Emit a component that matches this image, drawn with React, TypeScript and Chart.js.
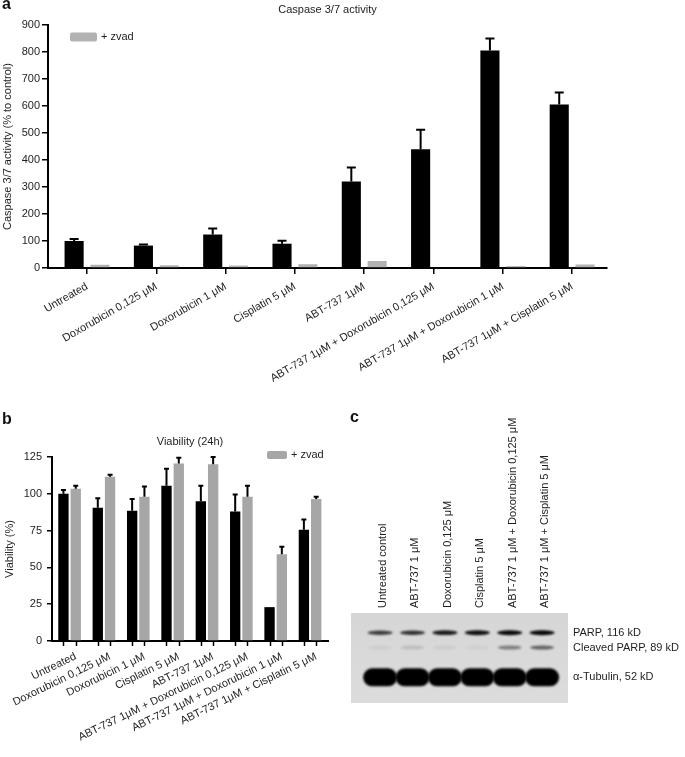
import React, { useEffect, useRef } from "react";
import { Chart, registerables } from "chart.js";

Chart.register(...registerables);

const FONT = "'Liberation Sans', Arial, Helvetica, sans-serif";
const TEXT = "#1e1e1e";

// ---------- Panel a: Caspase 3/7 activity ----------
const treatments = [
  "Untreated",
  "Doxorubicin 0,125 μM",
  "Doxorubicin 1 μM",
  "Cisplatin 5 μM",
  "ABT-737 1μM",
  "ABT-737 1μM + Doxorubicin 0,125 μM",
  "ABT-737 1μM + Doxorubicin 1 μM",
  "ABT-737 1μM + Cisplatin 5 μM",
];
const caspaseControl = [100, 83, 124, 90, 320, 440, 806, 606];
const caspaseControlErr = [7, 4, 22, 11, 52, 72, 44, 44];
const caspaseZvad = [12, 10, 9, 14, 26, 0, 7, 13];

// ---------- Panel b: Viability (24h) ----------
const viabilityControl = [100, 90.5, 88.5, 105.5, 95, 88, 23, 75.5];
const viabilityControlErr = [2.5, 6.5, 8, 11.5, 10.5, 11.5, 0, 7];
const viabilityZvad = [103.5, 111.5, 98, 120.5, 120, 98, 59, 96.5];
const viabilityZvadErr = [2, 1.5, 7, 4, 5, 7.5, 5, 1.5];

// ---------- Panel c: western blot ----------
const laneLabels = [
  "Untreated control",
  "ABT-737 1 μM",
  "Doxorubicin 0,125 μM",
  "Cisplatin 5 μM",
  "ABT-737 1 μM + Doxorubicin 0,125 μM",
  "ABT-737 1 μM + Cisplatin 5 μM",
];
const bandNames = ["PARP, 116 kD", "Cleaved PARP, 89 kD", "α-Tubulin, 52 kD"];
const bandMW = [116, 89, 52];
const parpSignal = [0.72, 0.78, 0.88, 0.92, 0.96, 0.97];
const cleavedSignal = [0.05, 0.12, 0.06, 0.04, 0.42, 0.55];
const tubulinSignal = [1, 1, 1, 1, 1, 1];

// ---------- plugins ----------
const errorBarPlugin = {
  id: "errorBars",
  afterDatasetsDraw(chart: any, _a: any, opts: any) {
    const ctx = chart.ctx;
    const yScale = chart.scales.y;
    chart.data.datasets.forEach((ds: any, di: number) => {
      const errs = ds.errorBars;
      if (!errs) return;
      const meta = chart.getDatasetMeta(di);
      meta.data.forEach((el: any, i: number) => {
        const e = errs[i];
        if (!e) return;
        const v = ds.data[i].y;
        const yTop = yScale.getPixelForValue(v + e);
        ctx.save();
        ctx.strokeStyle = "#000";
        ctx.lineWidth = opts.lineWidth;
        ctx.beginPath();
        ctx.moveTo(el.x, el.y);
        ctx.lineTo(el.x, yTop);
        ctx.moveTo(el.x - opts.cap / 2, yTop);
        ctx.lineTo(el.x + opts.cap / 2, yTop);
        ctx.stroke();
        ctx.restore();
      });
    });
  },
};

const decorPlugin = {
  id: "decor",
  afterDraw(chart: any, _a: any, opts: any) {
    const { ctx, chartArea } = chart;
    ctx.save();
    ctx.fillStyle = TEXT;
    ctx.font = `${opts.titleSize}px ${FONT}`;
    ctx.textAlign = "center";
    ctx.textBaseline = "middle";
    ctx.fillText(opts.title, (chartArea.left + chartArea.right) / 2, opts.titleY);
    const lg = opts.legend;
    const ds = chart.data.datasets[lg.datasetIndex];
    ctx.fillStyle = ds.backgroundColor;
    ctx.beginPath();
    ctx.roundRect(lg.x, lg.y - lg.h / 2, lg.w, lg.h, 2);
    ctx.fill();
    ctx.fillStyle = TEXT;
    ctx.textAlign = "left";
    ctx.font = `${lg.size}px ${FONT}`;
    ctx.fillText(ds.label, lg.x + lg.w + lg.gap, lg.y);
    ctx.restore();
  },
};

const barTickPlugin = {
  id: "barTicks",
  afterDraw(chart: any, _a: any, opts: any) {
    const { ctx, chartArea } = chart;
    ctx.save();
    ctx.strokeStyle = "#000";
    ctx.lineWidth = opts.lineWidth;
    chart.data.datasets.forEach((_ds: any, di: number) => {
      chart.getDatasetMeta(di).data.forEach((el: any) => {
        const x = Math.round(el.x) + 0.5;
        ctx.beginPath();
        ctx.moveTo(x, chartArea.bottom);
        ctx.lineTo(x, chartArea.bottom + opts.length);
        ctx.stroke();
      });
    });
    ctx.restore();
  },
};

const blotPlugin = {
  id: "blot",
  beforeDatasetsDraw(chart: any, _a: any, opts: any) {
    const { ctx, chartArea: ca, scales } = chart;
    const xs = scales.x;
    const ys = scales.y;
    ctx.save();
    const g = ctx.createLinearGradient(0, ca.top, 0, ca.bottom);
    g.addColorStop(0, opts.bgTop);
    g.addColorStop(1, opts.bgBottom);
    ctx.fillStyle = g;
    ctx.fillRect(ca.left, ca.top, ca.width, ca.height);
    ctx.beginPath();
    ctx.rect(ca.left, ca.top, ca.width, ca.height);
    ctx.clip();
    chart.data.datasets.forEach((ds: any, di: number) => {
      const st = opts.bandStyles[di];
      ds.data.forEach((p: any, i: number) => {
        const s = ds.signal[i];
        const cx = xs.getPixelForValue(p.x);
        const cy = ys.getPixelForValue(p.y);
        ctx.filter = `blur(${st.blur}px)`;
        ctx.fillStyle = `rgba(0,0,0,${s})`;
        const h = st.height * (st.grow ? 0.55 + 0.45 * s : 1);
        ctx.beginPath();
        if (st.shape === "round") {
          ctx.roundRect(cx - st.width / 2, cy - h / 2, st.width, h, h / 2);
        } else {
          ctx.ellipse(cx, cy, st.width / 2, h / 2, 0, 0, Math.PI * 2);
        }
        ctx.fill();
      });
    });
    ctx.restore();
  },
};

const tickFont = { family: FONT, size: 11 };

function makeA(canvas: HTMLCanvasElement) {
  return new Chart(canvas, {
    type: "bar",
    data: {
      datasets: [
        {
          label: "control",
          data: caspaseControl.map((y, i) => ({ x: i, y })),
          backgroundColor: "#000",
          errorBars: caspaseControlErr,
        } as any,
        {
          label: "+ zvad",
          data: caspaseZvad.map((y, i) => ({ x: i, y })),
          backgroundColor: "#b2b2b2",
        },
      ],
    },
    options: {
      responsive: false,
      animation: false,
      layout: { padding: { left: 0, top: 25, right: 78, bottom: 0 } },
      datasets: { bar: { categoryPercentage: 0.745, barPercentage: 0.74 } },
      plugins: {
        legend: { display: false },
        tooltip: { enabled: false },
        errorBars: { lineWidth: 2, cap: 9 },
        decor: {
          title: "Caspase 3/7 activity",
          titleSize: 11,
          titleY: 10,
          legend: { datasetIndex: 1, x: 70, y: 37, w: 27, h: 9, gap: 4, size: 11 },
        },
      } as any,
      scales: {
        x: {
          type: "linear",
          min: -0.563,
          max: 7.503,
          offset: false,
          afterBuildTicks: (s: any) => {
            s.ticks = treatments.map((_, i) => ({ value: i }));
          },
          afterFit: (s: any) => {
            s.height = 132;
          },
          grid: { display: true, drawOnChartArea: false, offset: false, color: "#000", lineWidth: 1.5, tickLength: 6 },
          border: { color: "#000", width: 2 },
          ticks: {
            autoSkip: false,
            minRotation: 30,
            maxRotation: 30,
            padding: 6,
            font: tickFont,
            color: TEXT,
            callback: (v: any) => treatments[v],
          },
        },
        y: {
          min: 0,
          max: 900,
          afterFit: (s: any) => {
            s.width = 48;
          },
          grid: { display: true, drawOnChartArea: false, color: "#000", lineWidth: 1.5, tickLength: 6 },
          border: { color: "#000", width: 2 },
          ticks: { stepSize: 100, padding: 2, font: tickFont, color: TEXT },
          title: {
            display: true,
            text: "Caspase 3/7 activity (% to control)",
            font: { family: FONT, size: 11 },
            color: TEXT,
            padding: { top: 1, bottom: 0 },
          },
        },
      },
    } as any,
    plugins: [errorBarPlugin, decorPlugin],
  });
}

function makeB(canvas: HTMLCanvasElement) {
  return new Chart(canvas, {
    type: "bar",
    data: {
      datasets: [
        {
          label: "control",
          data: viabilityControl.map((y, i) => ({ x: i, y })),
          backgroundColor: "#000",
          errorBars: viabilityControlErr,
        } as any,
        {
          label: "+ zvad",
          data: viabilityZvad.map((y, i) => ({ x: i, y })),
          backgroundColor: "#a6a6a6",
          errorBars: viabilityZvadErr,
        },
      ],
    },
    options: {
      responsive: false,
      animation: false,
      layout: { padding: { left: 0, top: 47, right: 12, bottom: 0 } },
      datasets: { bar: { categoryPercentage: 0.716, barPercentage: 0.84 } },
      plugins: {
        legend: { display: false },
        tooltip: { enabled: false },
        errorBars: { lineWidth: 2, cap: 5 },
        barTicks: { lineWidth: 1.5, length: 5 },
        decor: {
          title: "Viability (24h)",
          titleSize: 11,
          titleY: 32,
          legend: { datasetIndex: 1, x: 267, y: 45, w: 20, h: 8, gap: 4, size: 11 },
        },
      } as any,
      scales: {
        x: {
          type: "linear",
          min: -0.512,
          max: 7.523,
          offset: false,
          afterBuildTicks: (s: any) => {
            s.ticks = treatments.map((_, i) => ({ value: i }));
          },
          afterFit: (s: any) => {
            s.height = 116;
          },
          grid: { display: true, drawOnChartArea: false, offset: false, color: "rgba(0,0,0,0)", tickLength: 5 },
          border: { color: "#000", width: 2 },
          ticks: {
            autoSkip: false,
            minRotation: 26,
            maxRotation: 26,
            padding: 4,
            labelOffset: 6,
            font: tickFont,
            color: TEXT,
            callback: (v: any) => treatments[v],
          },
        },
        y: {
          min: 0,
          max: 125,
          afterFit: (s: any) => {
            s.width = 52;
          },
          grid: { display: true, drawOnChartArea: false, color: "#000", lineWidth: 1.5, tickLength: 5 },
          border: { color: "#000", width: 2 },
          ticks: { stepSize: 25, padding: 5, font: tickFont, color: TEXT },
          title: {
            display: true,
            text: "Viability (%)",
            font: { family: FONT, size: 11 },
            color: TEXT,
            padding: { top: 3, bottom: 0 },
          },
        },
      },
    } as any,
    plugins: [errorBarPlugin, decorPlugin, barTickPlugin],
  });
}

function makeC(canvas: HTMLCanvasElement) {
  const band = (signal: number[], mw: number, label: string) => ({
    label,
    data: signal.map((_, i) => ({ x: i, y: mw })),
    signal,
    pointRadius: 0,
    showLine: false,
  });
  return new Chart(canvas, {
    type: "scatter",
    data: {
      datasets: [
        band(parpSignal, bandMW[0], bandNames[0]),
        band(cleavedSignal, bandMW[1], bandNames[1]),
        band(tubulinSignal, bandMW[2], bandNames[2]),
      ] as any,
    },
    options: {
      responsive: false,
      animation: false,
      layout: { padding: { left: 11, top: 0, right: 0, bottom: 54 } },
      plugins: {
        legend: { display: false },
        tooltip: { enabled: false },
        blot: {
          bgTop: "#d6d6d6",
          bgBottom: "#dcdcdc",
          bandStyles: [
            { width: 25, height: 5, blur: 0.9, grow: true, shape: "ellipse" },
            { width: 24, height: 4, blur: 1.1, grow: false, shape: "ellipse" },
            { width: 34, height: 18, blur: 1.2, grow: false, shape: "round" },
          ],
        },
      } as any,
      scales: {
        x: {
          type: "linear",
          position: "top",
          min: -0.9,
          max: 5.8,
          afterBuildTicks: (s: any) => {
            s.ticks = laneLabels.map((_, i) => ({ value: i }));
          },
          afterFit: (s: any) => {
            s.height = 203;
          },
          grid: { display: false, drawTicks: false },
          border: { display: false },
          ticks: {
            autoSkip: false,
            minRotation: 90,
            maxRotation: 90,
            padding: 5,
            labelOffset: 16,
            font: tickFont,
            color: TEXT,
            callback: (v: any) => laneLabels[v],
          },
        },
        y: {
          type: "logarithmic",
          position: "right",
          min: 32.8,
          max: 165.4,
          afterBuildTicks: (s: any) => {
            s.ticks = bandMW.map((v) => ({ value: v }));
          },
          afterFit: (s: any) => {
            s.width = 117;
          },
          grid: { display: false, drawTicks: false },
          border: { display: false },
          ticks: {
            autoSkip: false,
            padding: 5,
            font: tickFont,
            color: TEXT,
            callback: (v: any) => bandNames[bandMW.indexOf(Number(v))],
          },
        },
      },
    } as any,
    plugins: [blotPlugin],
  });
}

const letterStyle: React.CSSProperties = {
  position: "absolute",
  fontFamily: FONT,
  fontWeight: "bold",
  fontSize: 16,
  lineHeight: "16px",
  color: "#111",
};

export default function App() {
  const refA = useRef<HTMLCanvasElement>(null);
  const refB = useRef<HTMLCanvasElement>(null);
  const refC = useRef<HTMLCanvasElement>(null);
  useEffect(() => {
    const charts = [makeA(refA.current!), makeB(refB.current!), makeC(refC.current!)];
    return () => charts.forEach((c) => c.destroy());
  }, []);
  return (
    <div style={{ position: "absolute", left: 0, top: 0, width: 685, height: 757, background: "#fff", overflow: "hidden" }}>
      <canvas ref={refA} width={685} height={400} style={{ position: "absolute", left: 0, top: 0, width: 685, height: 400 }} />
      <canvas ref={refB} width={340} height={347} style={{ position: "absolute", left: 0, top: 410, width: 340, height: 347 }} />
      <canvas ref={refC} width={345} height={347} style={{ position: "absolute", left: 340, top: 410, width: 345, height: 347 }} />
      <div style={{ ...letterStyle, left: 2, top: -4 }}>a</div>
      <div style={{ ...letterStyle, left: 2, top: 411 }}>b</div>
      <div style={{ ...letterStyle, left: 350, top: 409 }}>c</div>
    </div>
  );
}
